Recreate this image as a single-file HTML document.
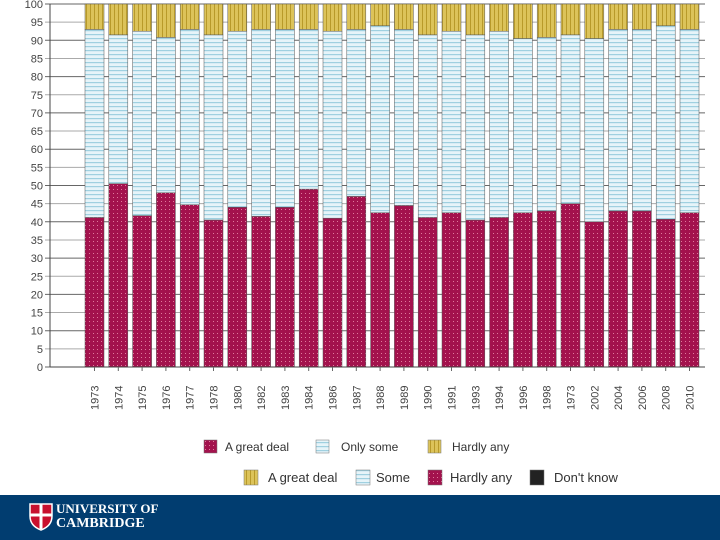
<!DOCTYPE html>
<html><head><meta charset="utf-8"><style>
body{margin:0;width:720px;height:540px;background:#fff;overflow:hidden;position:relative;font-family:"Liberation Sans",sans-serif}
#footer{position:absolute;left:0;top:495px;width:720px;height:45px;background:#013d70}
</style></head><body>
<svg id="chart" width="720" height="495" style="position:absolute;left:0;top:0">
<defs>
<pattern id="pDeal" width="4" height="4" patternUnits="userSpaceOnUse"><rect width="4" height="4" fill="#a3124d"/><rect x="1" y="1" width="1" height="1" fill="#e07a9c"/></pattern>
<pattern id="pSome" width="4" height="4" patternUnits="userSpaceOnUse"><rect width="4" height="4" fill="#e6f4f9"/><rect y="2" width="4" height="1.2" fill="#9fd0e0"/></pattern>
<pattern id="pHard" width="4" height="4" patternUnits="userSpaceOnUse"><rect width="4" height="4" fill="#dcc35a"/><rect x="2" width="1" height="4" fill="#b89a2a"/></pattern>
</defs>
<g id="grid"></g><g id="bars"></g><g id="axes"></g><g id="legend"></g>
</svg>
<div id="footer">
<svg width="30" height="30" style="position:absolute;left:28px;top:7px"><path d="M2 2H24V14Q24 24 13 28Q2 24 2 14Z" fill="#c8102e" stroke="#fff" stroke-width="1.5"/><path d="M13 2V27M2 13H24" stroke="#fff" stroke-width="3"/></svg>
<div style="position:absolute;left:56px;top:7px;color:#fff;font-family:'Liberation Serif',serif;font-size:13px;line-height:14px;font-weight:bold">UNIVERSITY OF<br><span style="font-size:14px">CAMBRIDGE</span></div>
</div>
<script>
const years=["1973","1974","1975","1976","1977","1978","1980","1982","1983","1984","1986","1987","1988","1989","1990","1991","1993","1994","1996","1998","1973","2002","2004","2006","2008","2010"];
const greatDeal=[41.2,50.5,41.7,48,44.7,40.5,44,41.5,44,49,41,47,42.5,44.5,41.2,42.5,40.5,41.2,42.5,43,45,40,43,43,40.7,42.5];
const onlySome=[51.8,41,50.8,42.8,48.3,51,48.5,51.5,49,44,51.5,46,51.5,48.5,50.3,50,51,51.3,48,47.8,46.5,50.5,50,50,53.3,50.5];
const hardlyAny=[7,8.5,7.5,9.2,7,8.5,7.5,7,7,7,7.5,7,6,7,8.5,7.5,8.5,7.5,9.5,9.2,8.5,9.5,7,7,6,7];
const yTicks=[0,5,10,15,20,25,30,35,40,45,50,55,60,65,70,75,80,85,90,95,100];
const NS="http://www.w3.org/2000/svg";
const y0=367,y1=4,x0=85,pitch=23.8,bw=19;
const yS=v=>y0-(v/100)*(y0-y1);
const xS=i=>x0+i*pitch;
function mk(t,a,p){const e=document.createElementNS(NS,t);for(const k in a)e.setAttribute(k,a[k]);p.appendChild(e);return e;}
const grid=document.getElementById('grid'),axes=document.getElementById('axes'),bars=document.getElementById('bars'),leg=document.getElementById('legend');
yTicks.forEach(v=>{
 const l=mk('line',{x1:45,x2:705,y1:yS(v),y2:yS(v),stroke:v%10==0?'#666':'#aaa','stroke-width':1},grid);
 
 
 const t=mk('text',{x:43,y:yS(v)+4,'text-anchor':'end','font-size':11,fill:'#444'},axes);t.textContent=v;
 
 
});
const ax=mk('line',{x1:50,x2:50,y1:y1,y2:y0,stroke:'#444'},axes);


const bx=mk('line',{x1:50,x2:705,y1:y0,y2:y0,stroke:'#444'},axes);


years.forEach((yr,i)=>{
 const x=xS(i);let base=0;
 [[greatDeal[i],'url(#pDeal)','bar-great-deal'],[onlySome[i],'url(#pSome)','bar-only-some'],[hardlyAny[i],'url(#pHard)','bar-hardly-any']].forEach(s=>{
  const r=mk('rect',{x:x,y:yS(base+s[0]),width:bw,height:yS(base)-yS(base+s[0]),fill:s[1],stroke:'#555','stroke-width':0.5},bars);
  
  
  base+=s[0];
 });
 const cx=x+bw/2;
 mk('line',{x1:cx,x2:cx,y1:y0,y2:y0+4,stroke:'#666'},axes);
 const t=mk('text',{transform:`translate(${cx+4},${y0+43}) rotate(-90)`,'font-size':11,fill:'#444'},axes);t.textContent=yr;
 
 
});
const L=[[204,440,'url(#pDeal)','A great deal',225],[316,440,'url(#pSome)','Only some',341],[428,440,'url(#pHard)','Hardly any',452],
 [244,470,'url(#pHard)','A great deal',268],[356,470,'url(#pSome)','Some',376],[428,470,'url(#pDeal)','Hardly any',450],[530,470,'#222',"Don't know",554]];
L.forEach((d,i)=>{
 const big=i>=3;
 const r=mk('rect',{x:d[0],y:d[1],width:big?14:13,height:big?15:13,fill:d[2],stroke:'#777','stroke-width':0.5},leg);
 
 
 const t=mk('text',{x:d[4],y:d[1]+(big?12:11),'font-size':big?13:12,fill:'#333'},leg);t.textContent=d[3];
 
 
});
</script>
</body></html>
